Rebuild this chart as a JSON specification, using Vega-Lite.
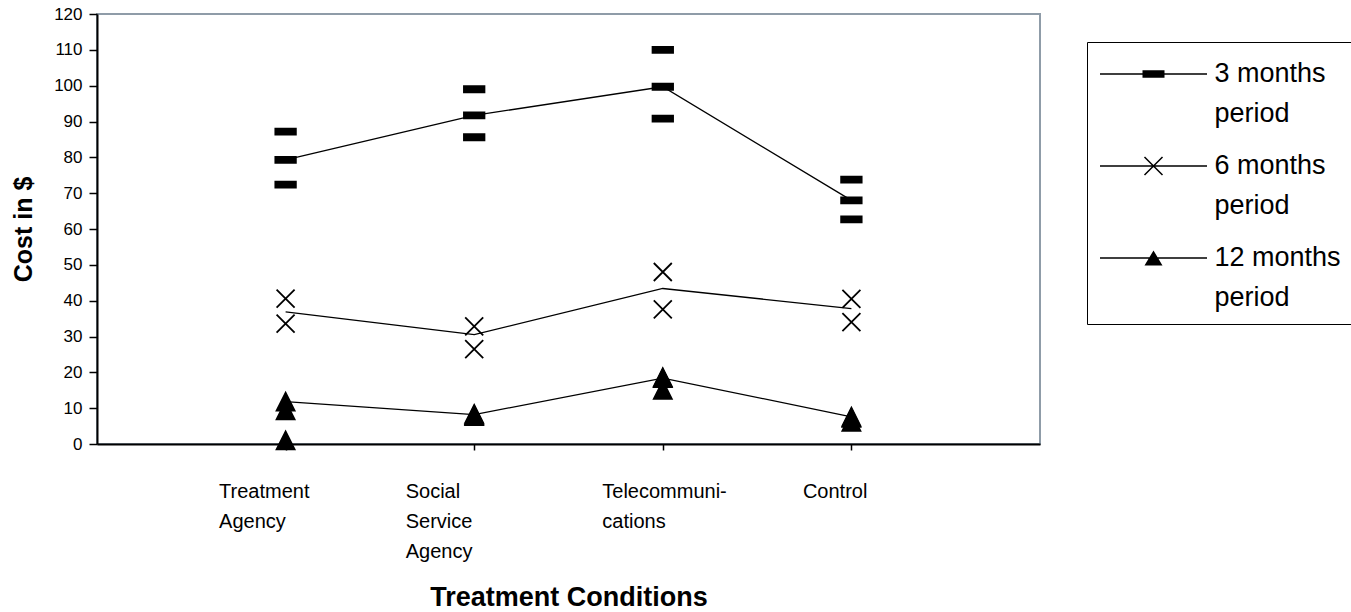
{
  "$schema": "https://vega.github.io/schema/vega-lite/v6.json",
  "width": 943,
  "height": 430,
  "autosize": {"type": "none"},
  "padding": {"left": 97, "top": 14, "right": 311, "bottom": 168},
  "background": "white",
  "config": {
    "font": "Liberation Sans",
    "view": {"stroke": "#8f9ca8", "strokeWidth": 2},
    "style": {"guide-label": {"lineHeight": 40}},
    "axis": {"domainColor": "black", "tickColor": "black", "labelColor": "black", "titleColor": "black", "grid": false, "labelFont": "Liberation Sans", "titleFont": "Liberation Sans"}
  },
  "datasets": {
    "means": [
      {"cond": "Treatment Agency", "period": "3 months period", "value": 79.3},
      {"cond": "Social Service Agency", "period": "3 months period", "value": 91.7},
      {"cond": "Telecommunications", "period": "3 months period", "value": 99.7},
      {"cond": "Control", "period": "3 months period", "value": 68.0},
      {"cond": "Treatment Agency", "period": "6 months period", "value": 36.9},
      {"cond": "Social Service Agency", "period": "6 months period", "value": 30.5},
      {"cond": "Telecommunications", "period": "6 months period", "value": 43.4},
      {"cond": "Control", "period": "6 months period", "value": 37.8},
      {"cond": "Treatment Agency", "period": "12 months period", "value": 11.8},
      {"cond": "Social Service Agency", "period": "12 months period", "value": 8.2},
      {"cond": "Telecommunications", "period": "12 months period", "value": 18.4},
      {"cond": "Control", "period": "12 months period", "value": 7.6}
    ],
    "markers": [
      {"cond": "Treatment Agency", "period": "3 months period", "value": 87.2},
      {"cond": "Treatment Agency", "period": "3 months period", "value": 79.3},
      {"cond": "Treatment Agency", "period": "3 months period", "value": 72.4},
      {"cond": "Social Service Agency", "period": "3 months period", "value": 99.0},
      {"cond": "Social Service Agency", "period": "3 months period", "value": 91.7},
      {"cond": "Social Service Agency", "period": "3 months period", "value": 85.6},
      {"cond": "Telecommunications", "period": "3 months period", "value": 110.0},
      {"cond": "Telecommunications", "period": "3 months period", "value": 99.7},
      {"cond": "Telecommunications", "period": "3 months period", "value": 90.8},
      {"cond": "Control", "period": "3 months period", "value": 73.8},
      {"cond": "Control", "period": "3 months period", "value": 68.0},
      {"cond": "Control", "period": "3 months period", "value": 62.7},
      {"cond": "Treatment Agency", "period": "6 months period", "value": 40.6},
      {"cond": "Treatment Agency", "period": "6 months period", "value": 33.6},
      {"cond": "Social Service Agency", "period": "6 months period", "value": 32.8},
      {"cond": "Social Service Agency", "period": "6 months period", "value": 26.5},
      {"cond": "Telecommunications", "period": "6 months period", "value": 48.0},
      {"cond": "Telecommunications", "period": "6 months period", "value": 37.6},
      {"cond": "Control", "period": "6 months period", "value": 40.5},
      {"cond": "Control", "period": "6 months period", "value": 34.0},
      {"cond": "Treatment Agency", "period": "12 months period", "value": 11.8},
      {"cond": "Treatment Agency", "period": "12 months period", "value": 9.4},
      {"cond": "Treatment Agency", "period": "12 months period", "value": 1.0},
      {"cond": "Social Service Agency", "period": "12 months period", "value": 8.4},
      {"cond": "Social Service Agency", "period": "12 months period", "value": 8.1},
      {"cond": "Social Service Agency", "period": "12 months period", "value": 7.8},
      {"cond": "Telecommunications", "period": "12 months period", "value": 18.6},
      {"cond": "Telecommunications", "period": "12 months period", "value": 18.4},
      {"cond": "Telecommunications", "period": "12 months period", "value": 15.1},
      {"cond": "Control", "period": "12 months period", "value": 7.6},
      {"cond": "Control", "period": "12 months period", "value": 7.3},
      {"cond": "Control", "period": "12 months period", "value": 6.2}
    ]
  },
  "encoding": {
    "x": {
      "field": "cond",
      "type": "nominal",
      "sort": ["Treatment Agency", "Social Service Agency", "Telecommunications", "Control"],
      "scale": {"type": "point", "padding": 1},
      "axis": {
        "title": "Treatment Conditions",
        "titleFontSize": 27,
        "titleFontWeight": "bold",
        "titlePadding": 23,
        "labelAngle": 0,
        "labelAlign": "left",
        "labelBaseline": "top",
        "labelFontSize": 20,
        "labelLineHeight": 30,
        "labelPadding": 31,
        "labelOverlap": false,
        "labelLimit": 0,
        "labelOffset": {"expr": "datum.value === 'Treatment Agency' ? -67 : datum.value === 'Social Service Agency' ? -69 : datum.value === 'Telecommunications' ? -61 : -49"},
        "tickSize": 6,
        "tickWidth": 1.5,
        "domainWidth": 2,
        "labelExpr": "datum.value === 'Treatment Agency' ? ['Treatment','Agency'] : datum.value === 'Social Service Agency' ? ['Social','Service','Agency'] : datum.value === 'Telecommunications' ? ['Telecommuni-','cations'] : datum.label"
      }
    },
    "y": {
      "field": "value",
      "type": "quantitative",
      "scale": {"domain": [0, 120], "nice": false, "zero": true},
      "axis": {
        "title": "Cost in $",
        "titleFontSize": 25,
        "titleFontWeight": "bold",
        "titlePadding": 17,
        "values": [0, 10, 20, 30, 40, 50, 60, 70, 80, 90, 100, 110, 120],
        "labelFontSize": 17,
        "tickSize": 8,
        "tickWidth": 1.5,
        "labelPadding": 7,
        "domainWidth": 2
      }
    }
  },
  "resolve": {"scale": {"shape": "independent"}},
  "layer": [
    {
      "data": {"name": "means"},
      "mark": {"type": "line", "color": "black", "strokeWidth": 1.3},
      "encoding": {"detail": {"field": "period", "type": "nominal"}}
    },
    {
      "data": {"name": "markers"},
      "mark": {"type": "point", "filled": true, "fill": "black", "stroke": "black", "strokeWidth": 1.8, "opacity": 1, "size": 400},
      "encoding": {
        "shape": {
          "field": "period",
          "type": "nominal",
          "scale": {
            "domain": ["3 months period", "6 months period", "12 months period"],
            "range": ["M-1.025,-0.3H1.025V0.3H-1.025Z", "M-0.9,-0.9L0.9,0.9M-0.9,0.9L0.9,-0.9", "M0,-0.9L0.9,0.9L-0.9,0.9Z"]
          },
          "legend": null
        }
      }
    },
    {
      "data": {"name": "means"},
      "mark": {"type": "point", "filled": true, "color": "black", "opacity": 0, "size": 1444},
      "encoding": {
        "shape": {
          "field": "period",
          "type": "nominal",
          "scale": {
            "domain": ["3 months period", "6 months period", "12 months period"],
            "range": [
              "M-2.816,-0.034H2.816V0.034H-2.816ZM-0.579,-0.2H0.579V0.2H-0.579Z",
              "M-2.816,-0.034H2.816V0.034H-2.816ZM-0.446,-0.502L0.502,0.446L0.446,0.502L-0.502,-0.446ZM-0.502,0.446L0.446,-0.502L0.502,-0.446L-0.446,0.502Z",
              "M-2.816,-0.034H2.816V0.034H-2.816ZM0,-0.395L0.474,0.395L-0.474,0.395Z"
            ]
          },
          "legend": {
            "title": null,
            "orient": "none",
            "legendX": 990,
            "legendY": 28,
            "strokeColor": "black",
            "padding": 13,
            "rowPadding": 20,
            "symbolSize": 1444,
            "symbolOffset": 34.5,
            "symbolStrokeWidth": 0,
            "symbolFillColor": "black",
            "symbolOpacity": 1,
            "labelFontSize": 27,
            "labelFont": "Liberation Sans",
            "labelColor": "black",
            "labelOffset": 42,
            "labelLimit": 0,
            "labelBaseline": "middle",
            "labelExpr": "[replace(datum.label, ' period', ''), 'period']"
          }
        }
      }
    }
  ]
}
